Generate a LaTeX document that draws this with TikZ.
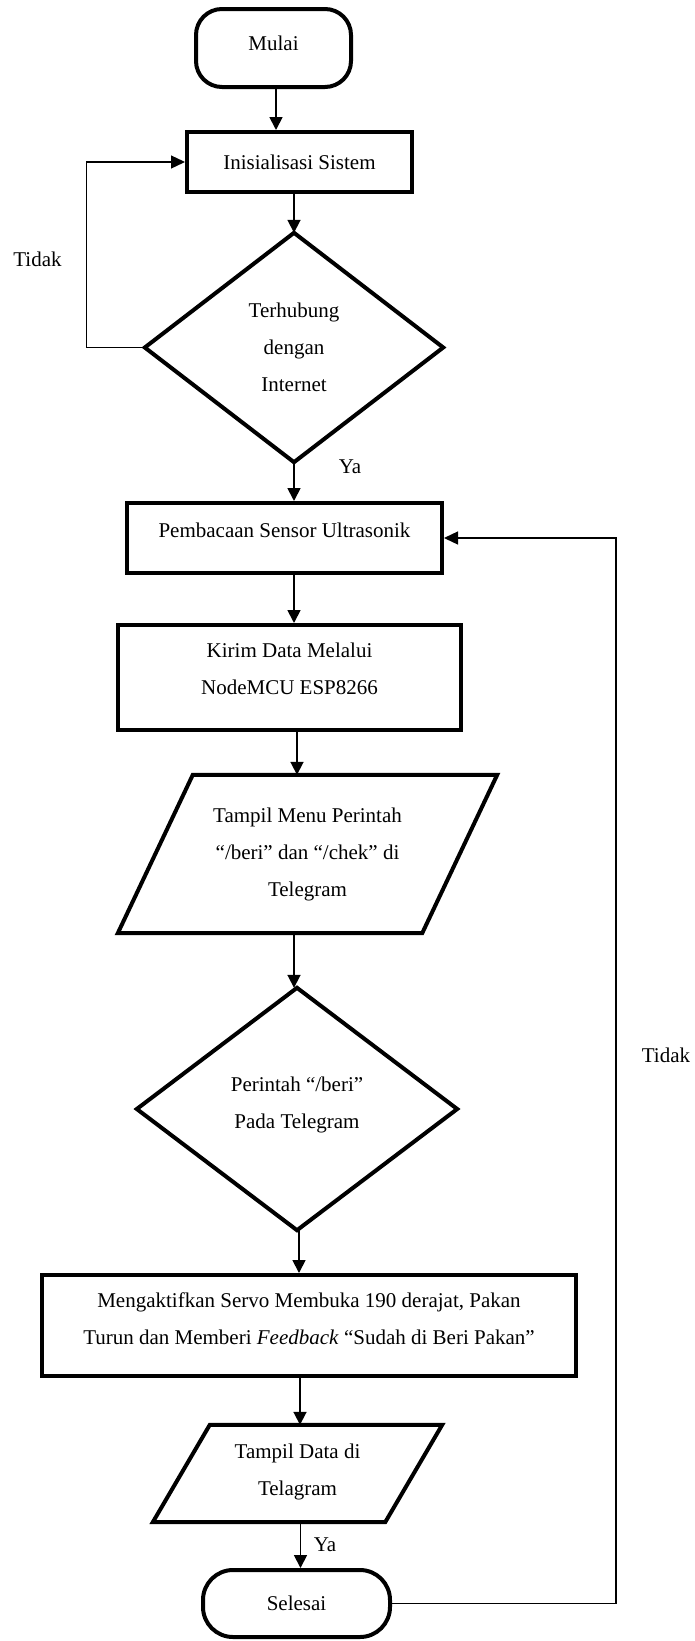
\documentclass[tikz,border=0pt]{standalone}
\usepackage{fontspec}
\setmainfont{Liberation Serif}
\usetikzlibrary{arrows.meta}
\begin{document}
\begin{tikzpicture}[x=1pt,y=-1pt,
  shapebox/.style={draw, line width=4pt, inner sep=0pt, align=center},
  textonly/.style={inner sep=0pt, align=center},
  outline/.style={line width=4pt, line join=miter},
  fA/.style={font=\fontsize{21}{25}\selectfont},
  fC/.style={font=\fontsize{21}{37}\selectfont},
  fD/.style={font=\fontsize{21}{22}\selectfont},
  arr/.style={line width=1.8pt, -{Triangle[length=13pt,width=13pt]}},
  looparr/.style={line width=1.3pt, -{Triangle[length=14pt,width=13pt]}},
  lbl/.style={font=\fontsize{21}{25}\selectfont, inner sep=0pt}]
\useasboundingbox (0,0) rectangle (695,1641);

% nodes
\node[shapebox, fA, rounded corners=26pt, minimum width=155pt, minimum height=78pt] (mulai) at (273.5,48) {Mulai\\[-15pt]~};
\node[shapebox, fA, minimum width=225pt, minimum height=60pt] (init) at (299.5,162) {Inisialisasi Sistem};
\node[textonly, fC, minimum width=298pt, minimum height=229pt] (d1) at (294,347.5) {Terhubung\\dengan\\Internet};
\draw[outline] (d1.north) -- (d1.east) -- (d1.south) -- (d1.west) -- cycle;
\node[shapebox, fD, minimum width=315pt, minimum height=70pt] (pemb) at (284.5,538) {Pembacaan Sensor Ultrasonik\\[-6pt]~};
\node[shapebox, fC, minimum width=343pt, minimum height=105pt] (kirim) at (289.5,677.5) {Kirim Data Melalui\\NodeMCU ESP8266\\[-19pt]~};
\node[textonly, fC, minimum width=379pt, minimum height=158pt] (p1) at (307.5,854) {Tampil Menu Perintah\\“/beri” dan “/chek” di\\Telegram};
\draw[outline] ([xshift=75pt]p1.north west) -- (p1.north east) -- ([xshift=-75pt]p1.south east) -- (p1.south west) -- cycle;
\node[textonly, fC, minimum width=320pt, minimum height=242pt] (d2) at (297,1109) {Perintah “/beri”\\Pada Telegram\\[-24pt]~};
\draw[outline] (d2.north) -- (d2.east) -- (d2.south) -- (d2.west) -- cycle;
\node[shapebox, fC, minimum width=534pt, minimum height=101pt] (servo) at (309,1325.5) {Mengaktifkan Servo Membuka 190 derajat, Pakan\\Turun dan Memberi \textit{Feedback} “Sudah di Beri Pakan”\\[-23pt]~};
\node[textonly, fC, minimum width=289pt, minimum height=97pt] (p2) at (297.5,1473.5) {Tampil Data di\\Telagram\\[-30pt]~};
\draw[outline] ([xshift=57pt]p2.north west) -- (p2.north east) -- ([xshift=-57pt]p2.south east) -- (p2.south west) -- cycle;
\node[shapebox, fA, rounded corners=30pt, minimum width=187pt, minimum height=67pt] (selesai) at (296.5,1603.5) {Selesai};

% connectors
\draw[arr] ([xshift=2.5pt]mulai.south) -- ([xshift=2.5pt]mulai.south |- init.north);
\draw[arr] (d1.north |- init.south) -- (d1.north);
\draw[arr] (d1.south) -- (d1.south |- pemb.north);
\draw[arr] ([xshift=4.5pt]kirim.north |- pemb.south) -- ([xshift=4.5pt]kirim.north);
\draw[arr] ([xshift=7.5pt]kirim.south) -- ([xshift=7.5pt]kirim.south |- p1.north);
\draw[arr] ([xshift=-3pt]d2.north |- p1.south) -- ([xshift=-3pt]d2.north);
\draw[arr] ([xshift=-10pt]servo.north |- d2.south) -- ([xshift=-10pt]servo.north);
\draw[arr] ([xshift=-9pt]servo.south) -- ([xshift=-9pt]servo.south |- p2.north);
\draw[arr] ([xshift=4pt]selesai.north |- p2.south) -- ([xshift=4pt]selesai.north);

% loops
\draw[looparr] (d1.west) -- ++(-58,0) |- (init.west);
\coordinate (rx) at (616,539);
\draw[looparr] (selesai.east) -| (rx |- pemb.east) -- (pemb.east);

% labels
\node[lbl] (tidak1) at (37.5,259) {Tidak};
\node[lbl] (ya1) at (350,467) {Ya};
\node[lbl] (tidak2) at (666,1055) {Tidak};
\node[lbl] (ya2) at (325,1545) {Ya};
\end{tikzpicture}
\end{document}
